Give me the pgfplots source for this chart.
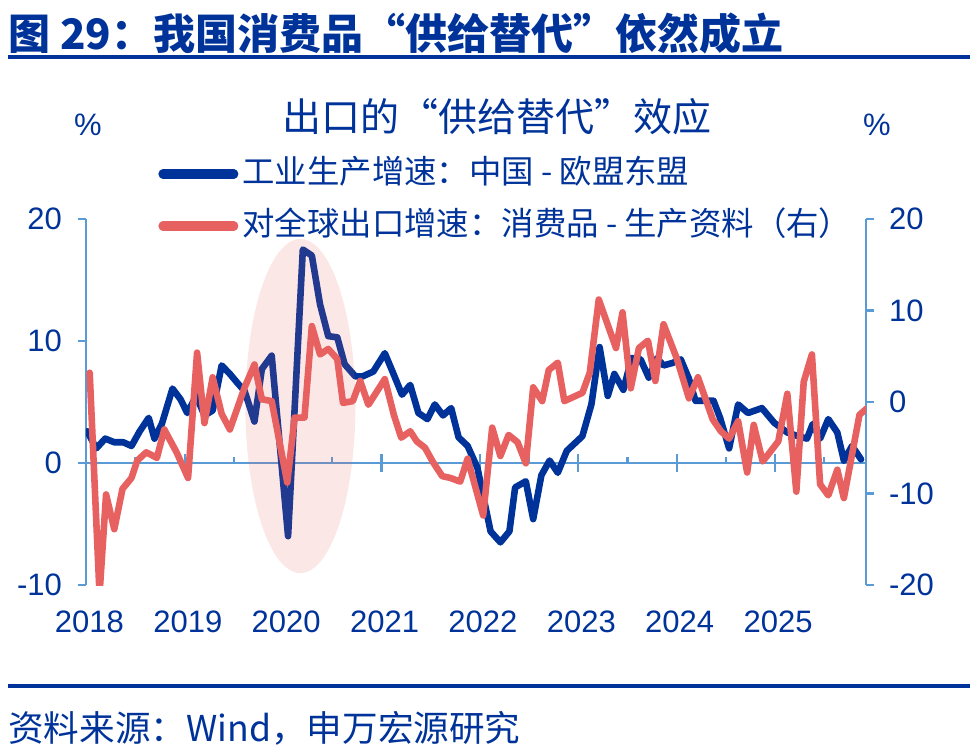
\documentclass[border=0pt]{standalone}
\usepackage{fontspec}
\setmainfont{Liberation Sans}
\newfontfamily\cjk{Noto Sans CJK SC}
\usepackage{pgfplots}
\pgfplotsset{compat=1.18}
\definecolor{navy}{HTML}{003399}
\definecolor{lred}{HTML}{E86161}
\definecolor{axblue}{HTML}{5B9BD5}
\pgfplotstableread{
m v
0.1 2.6
1.2 1.2
2.3 2.0
3.4 1.7
4.5 1.7
5.5 1.4
6.5 2.6
7.6 3.7
8.3 2.0
9.2 3.2
10.5 6.1
11.5 5.2
12.3 4.1
13.4 5.5
14.4 3.9
15.4 4.3
16.5 8.0
17.5 7.3
18.5 6.5
19.3 5.9
20.5 3.4
21.4 7.7
22.6 8.8
24.6 -6.0
26.4 17.5
27.5 17.0
28.5 13.0
29.5 10.4
30.6 10.3
31.5 8.1
32.8 7.1
33.7 7.1
35.0 7.5
36.4 9.0
37.4 7.4
38.5 5.6
39.5 6.4
40.5 4.1
41.6 3.6
42.5 4.8
43.5 3.9
44.5 4.5
45.4 2.1
46.5 1.4
47.7 -0.4
49.3 -5.6
50.5 -6.5
51.6 -5.6
52.3 -2.0
53.6 -1.5
54.5 -4.6
55.5 -1.0
56.5 0.2
57.5 -0.8
58.6 1.0
60.5 2.2
61.6 4.8
62.6 9.5
63.6 5.5
64.4 7.3
65.5 6.0
66.5 8.6
67.6 8.5
68.6 7.0
69.6 8.6
70.4 8.0
71.5 8.2
72.5 8.5
73.5 6.9
74.3 5.1
75.4 5.1
76.5 5.1
77.3 3.7
78.4 1.2
79.5 4.8
80.7 4.1
82.4 4.5
83.9 3.3
85.5 2.5
86.8 2.2
87.9 2.0
88.6 3.2
89.5 2.0
90.5 3.6
91.6 2.5
92.4 0.2
93.4 1.4
94.5 0.3
}\bluedata
\pgfplotstableread{
m v
0.4 3.2
1.6 -21
2.4 -10.1
3.4 -13.9
4.4 -9.5
5.5 -8.3
6.2 -6.4
7.3 -5.5
8.6 -6.1
9.5 -3.0
11.0 -5.5
12.4 -8.3
13.5 5.4
14.4 -2.3
15.4 2.7
16.5 -1.3
17.5 -3.0
19.3 1.6
20.5 4.1
21.4 0.3
22.6 0.1
24.5 -8.8
25.4 -1.7
26.6 -1.7
27.5 8.3
28.5 5.2
29.5 5.8
30.6 4.7
31.3 -0.1
32.5 0.1
33.4 2.3
34.4 -0.3
36.4 2.5
37.5 -1.4
38.4 -3.9
39.5 -3.2
40.3 -4.3
41.3 -5.0
42.3 -6.6
43.4 -8.1
44.4 -8.3
45.6 -8.7
46.5 -6.2
48.4 -12.4
49.5 -2.8
50.5 -5.9
51.5 -3.6
52.6 -4.4
53.6 -6.7
54.5 1.6
55.6 0.1
56.4 3.5
57.5 4.3
58.3 0.1
60.5 1.0
61.4 3.2
62.5 11.2
64.6 5.9
65.4 9.8
66.4 1.5
67.4 5.9
68.5 6.7
69.4 2.3
70.4 8.5
72.0 4.8
73.5 0.4
74.6 2.7
76.4 -1.9
77.4 -3.2
78.4 -4.0
79.5 -2.1
80.6 -7.7
81.4 -2.5
82.5 -6.5
84.4 -4.3
85.5 0.9
86.6 -9.8
87.5 2.2
88.5 5.2
89.5 -9.0
90.5 -10.2
91.6 -7.4
92.4 -10.5
94.3 -1.4
95.2 -0.7
}\reddata
\begin{document}
\begin{tikzpicture}[x=1pt,y=1pt]
\useasboundingbox (-43,-80.5) rectangle (446,292.5);
\pgfplotsset{
  common/.style={
    at={(0,0)}, anchor=south west,
    width=390pt, height=183pt, scale only axis,
    xmin=-0.05, xmax=95.1,
    /pgf/number format/assume math mode=true,
    tick label style={font=\fontsize{15.5}{18}\selectfont, text=navy},
    tick align=outside,
    major tick length=4pt,
    axis line style={axblue, line width=1.1pt},
    tick style={axblue, line width=1.1pt},
  }
}
\begin{axis}[common,
  ymin=-10, ymax=20, ytick={-10,0,10,20},
  axis y line*=left, axis x line*=bottom,
  x axis line style={draw=none},
  every x tick/.style={draw=none},
  every major x tick/.style={draw=none},
  xtick={0,12,...,84},
  xticklabels={2018,2019,2020,2021,2022,2023,2024,2025},
  xticklabel style={anchor=center, yshift=-14.5pt, xshift=1.5pt},
  yticklabel style={xshift=-4.5pt},
]
\draw[axblue, line width=1.1pt] (axis cs:-0.05,0) -- (axis cs:95.1,0);
\pgfplotsinvokeforeach{12,24,36,48,60,72,84}{
  \draw[axblue, line width=1.1pt] ([yshift=-4.5pt]axis cs:#1,0) -- ([yshift=4.5pt]axis cs:#1,0);
}
\pgfplotsinvokeforeach{6,18,30,42,54,66,78,90}{
  \draw[axblue, line width=1.1pt] (axis cs:#1,0) -- ([yshift=3pt]axis cs:#1,0);
}
\addplot[navy, line width=3.3pt, line join=round, line cap=round] table[x=m,y=v] {\bluedata};
\end{axis}
\begin{axis}[common,
  ymin=-20, ymax=20, ytick={-20,-10,0,10,20},
  axis y line*=right, axis x line=none,
  yticklabel style={xshift=4pt},
  legend style={draw=none, fill=none, at={(0.0923,1.176)}, anchor=north west,
    font=\cjk\fontsize{16.2}{19}\selectfont, text=navy,
    inner sep=0pt, row sep=7pt,
    nodes={inner sep=2pt, text height=12pt, text depth=3pt}},
  legend cell align=left,
  legend image code/.code={\draw[#1, line width=4.6pt, line cap=round] (2.3pt,0pt) -- (37.7pt,0pt);},
]
\addlegendimage{navy}
\addlegendentry{工业生产增速：中国 - 欧盟东盟}
\addplot[lred, line width=3.3pt, line join=round, line cap=round] table[x=m,y=v] {\reddata};
\addlegendentry{对全球出口增速：消费品 - 生产资料（右）}
\fill[lred, opacity=0.15] (axis cs:26.1,-0.44) ellipse [x radius=27.5pt, y radius=83.5pt];
\end{axis}
\node[anchor=west, inner sep=0pt, text=navy, font=\cjk\bfseries\fontsize{21}{25}\selectfont] at (-39,276) {图 29：我国消费品“供给替代”依然成立};
\fill[navy] (-39,263) rectangle (442,265);
\node[text=navy, font=\cjk\fontsize{19.5}{23}\selectfont] at (205.5,234) {出口的“供给替代”效应};
\node[text=navy, font=\fontsize{15.5}{18}\selectfont] at (1,230) {\%};
\node[text=navy, font=\fontsize{15.5}{18}\selectfont] at (395.5,230) {\%};
\fill[navy] (-39,-49.4) rectangle (442,-51.6);
\node[anchor=west, inner sep=0pt, text=navy, font=\cjk\fontsize{17.8}{21}\selectfont] at (-39,-71.5) {资料来源：Wind，申万宏源研究};
\end{tikzpicture}
\end{document}
